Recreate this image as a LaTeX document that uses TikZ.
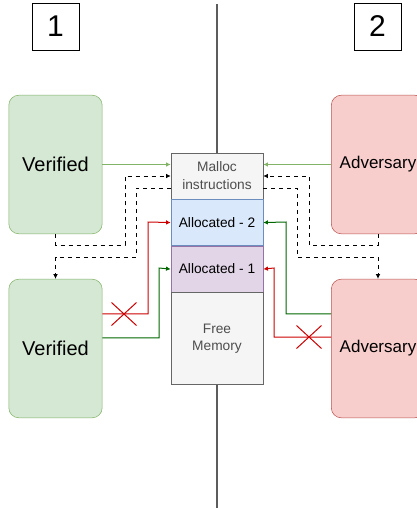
\documentclass[tikz,border=0pt]{standalone}
\usepackage{fontspec}
\setmainfont{Liberation Sans}
\usetikzlibrary{positioning,arrows.meta,shapes.misc}

\definecolor{vfill}{HTML}{D5E8D4}
\definecolor{vline}{HTML}{82B366}
\definecolor{afill}{HTML}{F8CECC}
\definecolor{aline}{HTML}{B85450}
\definecolor{bfill}{HTML}{DAE8FC}
\definecolor{bline}{HTML}{6C8EBF}
\definecolor{pfill}{HTML}{E1D5E7}
\definecolor{pline}{HTML}{9673A6}
\definecolor{mfill}{HTML}{F5F5F5}
\definecolor{mline}{HTML}{666666}
\definecolor{mtext}{HTML}{4D4D4D}
\definecolor{okgreen}{HTML}{006600}
\definecolor{badred}{HTML}{CC0000}

\begin{document}
\begin{tikzpicture}[
  x=0.75pt, y=-0.75pt,
  party/.style={rounded corners=7.5pt, minimum width=70pt, minimum height=104pt,
                inner sep=0pt},
  ver/.style={party, draw=vline, fill=vfill, font=\fontsize{15}{18}\selectfont},
  adv/.style={party, draw=aline, fill=afill, font=\fontsize{12.75}{15}\selectfont},
  mem/.style={draw=mline, minimum width=69pt, minimum height=34.5pt, inner sep=0pt,
              align=center, font=\fontsize{10.3}{13}\selectfont},
  tag/.style={draw, minimum size=35pt, inner sep=0pt, font=\fontsize{22.5}{24}\selectfont},
  tip/.style={-{Latex[length=3.5pt,width=3.5pt]}},
  req/.style={tip, vline, line width=1pt},
  dline/.style={tip, dashed, line width=0.75pt},
  good/.style={tip, okgreen, line width=0.75pt},
  bad/.style={tip, badred, line width=0.75pt},
  nogo/.style={cross out, draw=badred, line width=0.75pt, minimum width=18pt,
               minimum height=16.5pt, inner sep=0pt},
  divider/.style={draw=mline!90!black, line width=1.1pt}
]
  \useasboundingbox (0,0) rectangle (417,508);

  % phase labels
  \node[tag] (one) at (55.5,26.5)  {1};
  \node[tag] (two) at (377.5,26.5) {2};

  % memory column
  \node[mem, fill=mfill, text=mtext, font=\fontsize{10.3}{13.5}\selectfont]
       (malloc) at (217,176) {Malloc\\instructions};
  \node[mem, fill=bfill, draw=bline, below=0pt of malloc] (alloc2) {Allocated - 2};
  \node[mem, fill=pfill, draw=pline, below=0pt of alloc2] (alloc1) {Allocated - 1};
  \node[mem, fill=mfill, text=mtext, minimum height=69pt, font=\fontsize{10.3}{12.75}\selectfont,
        below=0pt of alloc1] (free) {Free\\Memory};

  \draw[divider] (217,4) -- (malloc.north);
  \draw[divider] (free.south) -- (217,508);

  % parties
  \node[ver] (ver1) at (55.5,164.5) {Verified};
  \node[ver] (ver2) at (55.5,348.5) {Verified};
  \node[adv] (adv1) at (378,164.5)  {Adversary};
  \node[adv] (adv2) at (378,348.5)  {Adversary};

  % requests
  \draw[req] (ver1.east) -- (malloc.west |- ver1.east);
  \draw[req] (adv1.west) -- (malloc.east |- adv1.west);

  \draw[dline] (ver1.south) |- (125,245) |- (malloc.west);
  \draw[dline] ([yshift=-9pt]malloc.west) -| (136,257) -| (ver2.north);
  \draw[dline] (adv1.south) |- (309,245) |- (malloc.east);
  \draw[dline] ([yshift=-9pt]malloc.east) -| (297,257) -| (adv2.north);

  % accesses
  \draw[bad]  ([yshift=26pt]ver2.east) -| (148,222) -- (alloc2.west);
  \draw[good] ([yshift=8pt]ver2.east)  -| (159,268) -- (alloc1.west);
  \draw[good] ([yshift=26pt]adv2.west) -| (286,222) -- (alloc2.east);
  \draw[bad]  ([yshift=8.5pt]adv2.west) -| (274,268) -- (alloc1.east);

  \node[nogo] (denyA) at (124,314) {};
  \node[nogo] (denyB) at (309,337) {};
\end{tikzpicture}
\end{document}
